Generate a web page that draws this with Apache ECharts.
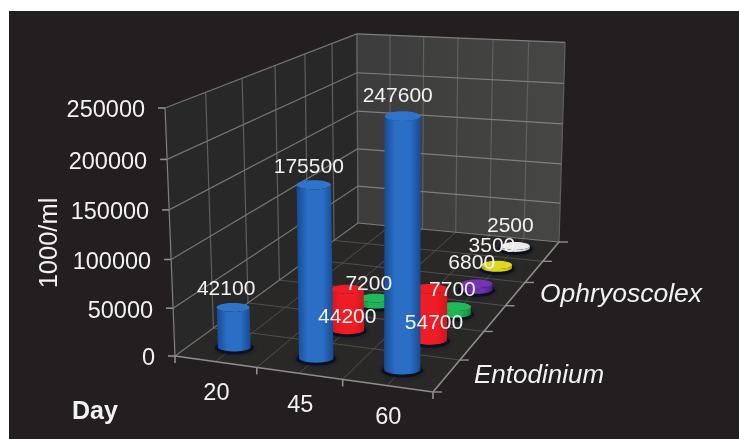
<!DOCTYPE html>
<html>
<head>
<meta charset="utf-8" />
<title>chart</title>
<style>
html, body { margin: 0; padding: 0; background: #fff; }
#main { width: 739px; height: 439px; }
</style>
</head>
<body>
<div id="main"></div>
<script src="https://cdn.jsdelivr.net/npm/echarts@6/dist/echarts.min.js"></script>
<script>
var days = ['20', '45', '60'];
var yTicks = [0, 50000, 100000, 150000, 200000, 250000];
var entodinium = [42100, 175500, 247600];
var row2 = [null, 44200, 54700];
var row3 = [null, 7200, 7700];
var row4 = [null, null, 6800];
var row5 = [null, null, 3500];
var ophryoscolex = [null, null, 2500];

// front row first
var rows = [entodinium, row2, row3, row4, row5, ophryoscolex];
var rowColors = [
	['#174a91', '#2a6ec6', '#2f74cc'],
	['#d0161e', '#ee1c25', '#ee1c25'],
	['#118a3c', '#1fb356', '#22b85a'],
	['#4c1f85', '#6f2fb0', '#7433b4'],
	['#b5ad10', '#dcd31c', '#e0d820'],
	['#b8b8b8', '#e4e4e4', '#ececec']
];
// label offset from the top of each bar, same shape as rows
var labelNudge = [
	[[-7, -18], [-5, -18], [-5, -20]],
	[null, [0, 28], [4, 35]],
	[null, [-7, -14], [-2, -16]],
	[null, null, [-5, -21]],
	[null, null, [-5, -19]],
	[null, null, [-5, -20]]
];

var TEXT = '#f2f2f2';
var FONT = '"Liberation Sans", Arial, sans-serif';
var nU = days.length, nV = rows.length, zMax = 250000;

// camera: four floor corners, the top of the left axis and the vanishing point of the verticals
var cal = (function () {
	var x0 = 175, y0 = 356, x1 = 433, y1 = 392, x2 = 559, y2 = 242, x3 = 358, y3 = 223;
	var topY = 108, vx = 391, vy = 5730;
	var dx1 = x1 - x2, dx2 = x3 - x2, sx = x0 - x1 + x2 - x3;
	var dy1 = y1 - y2, dy2 = y3 - y2, sy = y0 - y1 + y2 - y3;
	var den = dx1 * dy2 - dx2 * dy1;
	var g = (sx * dy2 - dx2 * sy) / den, h = (dx1 * sy - sx * dy1) / den;
	var C = (y0 - topY) / (topY - vy);
	return {
		a: x1 - x0 + g * x1, b: x3 - x0 + h * x3, c: x0,
		d: y1 - y0 + g * y1, e: y3 - y0 + h * y3, f: y0, g: g, h: h,
		A: vx * C, B: vy * C, C: C
	};
})();

// u: 0..nU along days, v: 0..nV into the depth, val: data value
function project(u, v, val) {
	var s = u / nU, t = v / nV, z = val / zMax;
	var W = cal.g * s + cal.h * t + 1 + cal.C * z;
	return [
		(cal.a * s + cal.b * t + cal.c + cal.A * z) / W,
		(cal.d * s + cal.e * t + cal.f + cal.B * z) / W
	];
}

function lineEl(a, b, color, width) {
	return {
		type: 'line', silent: true,
		shape: { x1: a[0], y1: a[1], x2: b[0], y2: b[1] },
		style: { stroke: color, lineWidth: width }
	};
}

function polyEl(pts, fill) {
	return { type: 'polygon', silent: true, shape: { points: pts }, style: { fill: fill } };
}

function textEl(str, x, y, size, align) {
	return {
		type: 'text', silent: true, z2: 100,
		style: {
			text: str, x: x, y: y, fill: TEXT, fontSize: size, fontFamily: FONT,
			align: align || 'center', verticalAlign: 'middle'
		}
	};
}

function renderFrame(params, api) {
	var pt = function (u, v, val) { return api.coord(project(u, v, val)); };
	var els = [];
	var i, k;
	// walls and floor
	els.push(polyEl([pt(0, 0, 0), pt(0, nV, 0), pt(0, nV, zMax), pt(0, 0, zMax)], '#282828'));
	els.push(polyEl([pt(0, nV, 0), pt(nU, nV, 0), pt(nU, nV, zMax), pt(0, nV, zMax)], {
		type: 'linear', x: 0, y: 0, x2: 1, y2: 0,
		colorStops: [{ offset: 0, color: '#3c3c3c' }, { offset: 1, color: '#464644' }]
	}));
	els.push(polyEl([pt(0, 0, 0), pt(nU, 0, 0), pt(nU, nV, 0), pt(0, nV, 0)], '#292827'));

	// floor grid
	for (i = 1; i < 6; i++) {
		els.push(lineEl(pt(i * nU / 6, 0, 0), pt(i * nU / 6, nV, 0), '#4e4e4e', 1));
	}
	for (k = 1; k < nV; k++) {
		els.push(lineEl(pt(0, k, 0), pt(nU, k, 0), '#4e4e4e', 1));
	}
	// wall grid
	for (k = 0; k <= nV; k++) {
		els.push(lineEl(pt(0, k, 0), pt(0, k, zMax), k === 0 ? '#808080' : '#5e5e5e', 1.2));
	}
	for (i = 0; i <= 6; i++) {
		els.push(lineEl(pt(i * nU / 6, nV, 0), pt(i * nU / 6, nV, zMax), '#5f5f5f', 1.2));
	}
	yTicks.forEach(function (t) {
		els.push(lineEl(pt(0, 0, t), pt(0, nV, t), '#747474', 1.2));
		els.push(lineEl(pt(0, nV, t), pt(nU, nV, t), '#7e7e7e', 1.2));
	});
	// box edges
	els.push(lineEl(pt(0, 0, 0), pt(nU, 0, 0), '#8e8e8e', 1.6));
	els.push(lineEl(pt(nU, 0, 0), pt(nU, nV, 0), '#8e8e8e', 1.6));

	// ticks and labels
	yTicks.forEach(function (t) {
		var p = pt(0, 0, t);
		els.push(lineEl([p[0] - 7, p[1]], p, '#8f8f8f', 1.6));
		els.push(textEl(String(t), p[0] - 20, p[1] + 3, 23.5, 'right'));
	});
	for (i = 0; i <= nU; i++) {
		var q = pt(i, 0, 0);
		els.push(lineEl(q, [q[0], q[1] + 7], '#8f8f8f', 1.6));
	}
	for (k = 0; k <= nV; k++) {
		var r = pt(nU, k, 0);
		els.push(lineEl(r, [r[0] + 9, r[1]], '#8f8f8f', 1.4));
	}
	days.forEach(function (d, idx) {
		var m = pt(idx + 0.5, 0, 0);
		els.push(textEl(d, m[0] + 1, m[1] + 32, 23.5));
	});
	return { type: 'group', children: els };
}

function ellipsePts(cx, cy, rx, ry, from, to) {
	var out = [];
	for (var i = 0; i <= 24; i++) {
		var a = from + (to - from) * i / 24;
		out.push([cx + rx * Math.cos(a), cy + ry * Math.sin(a)]);
	}
	return out;
}

function renderBar(params, api) {
	var u = api.value(0) + 0.5, val = api.value(1);
	var rowIdx = nV - params.seriesIndex;
	var v = rowIdx + 0.5;
	var col = rowColors[rowIdx];
	var nudge = labelNudge[rowIdx][api.value(0)];
	var base = api.coord(project(u, v, 0));
	var top = api.coord(project(u, v, val));
	var rx = 0.205 * Math.abs(api.coord(project(u + 0.5, v, 0))[0] - api.coord(project(u - 0.5, v, 0))[0]);
	var ry = rx * 0.27;
	var side = ellipsePts(base[0], base[1], rx, ry, 0, Math.PI)
		.concat(ellipsePts(top[0], top[1], rx, ry, Math.PI, 0));
	return {
		type: 'group',
		children: [
			{
				type: 'ellipse', silent: true,
				shape: { cx: base[0], cy: base[1] + 1, rx: rx + 3, ry: ry + 2 },
				style: { fill: 'rgba(8,14,30,0.8)', shadowBlur: 6, shadowColor: 'rgba(8,14,30,0.8)' }
			},
			{
				type: 'polygon', silent: true,
				shape: { points: side },
				style: {
					fill: {
						type: 'linear', x: 0, y: 0, x2: 1, y2: 0,
						colorStops: [
							{ offset: 0, color: col[0] },
							{ offset: 0.3, color: col[1] },
							{ offset: 0.7, color: col[1] },
							{ offset: 1, color: col[0] }
						]
					}
				}
			},
			{
				type: 'ellipse', silent: true,
				shape: { cx: top[0], cy: top[1], rx: rx, ry: ry },
				style: { fill: col[2] }
			},
			textEl(String(val), top[0] + nudge[0], top[1] + nudge[1], 21)
		]
	};
}

var series = [{
	type: 'custom', renderItem: renderFrame, data: [[0, 0]], clip: false, silent: true
}];
// back rows drawn first
rows.slice().reverse().forEach(function (vals) {
	var data = [];
	vals.forEach(function (val, i) {
		if (val !== null) data.push([i, val]);
	});
	series.push({ type: 'custom', renderItem: renderBar, data: data, clip: false, silent: true });
});

var myChart = echarts.init(document.getElementById('main'));
myChart.setOption({
	animation: false,
	backgroundColor: '#fff',
	grid: { show: true, left: 9, top: 11, right: 0, bottom: 0, backgroundColor: '#231f20', borderWidth: 0 },
	xAxis: { type: 'value', show: false, min: 9, max: 739 },
	yAxis: { type: 'value', show: false, inverse: true, min: 11, max: 439 },
	graphic: [
		{
			type: 'text', z: 50, x: 50, y: 243, rotation: Math.PI / 2,
			style: { text: '1000/ml', fill: TEXT, fontSize: 25.5, fontFamily: FONT, align: 'center', verticalAlign: 'middle' }
		},
		{
			type: 'text', z: 50, x: 95, y: 412,
			style: { text: 'Day', fill: TEXT, fontSize: 25, fontWeight: 'bold', fontFamily: FONT, align: 'center', verticalAlign: 'middle' }
		},
		{
			type: 'text', z: 50, x: 539, y: 376,
			style: { text: 'Entodinium', fill: TEXT, fontSize: 26, fontStyle: 'italic', fontFamily: FONT, align: 'center', verticalAlign: 'middle' }
		},
		{
			type: 'text', z: 50, x: 621, y: 295,
			style: { text: 'Ophryoscolex', fill: TEXT, fontSize: 26.5, fontStyle: 'italic', fontFamily: FONT, align: 'center', verticalAlign: 'middle' }
		}
	],
	series: series
});

window.onresize = function () {
	myChart.resize();
};
</script>
</body>
</html>
